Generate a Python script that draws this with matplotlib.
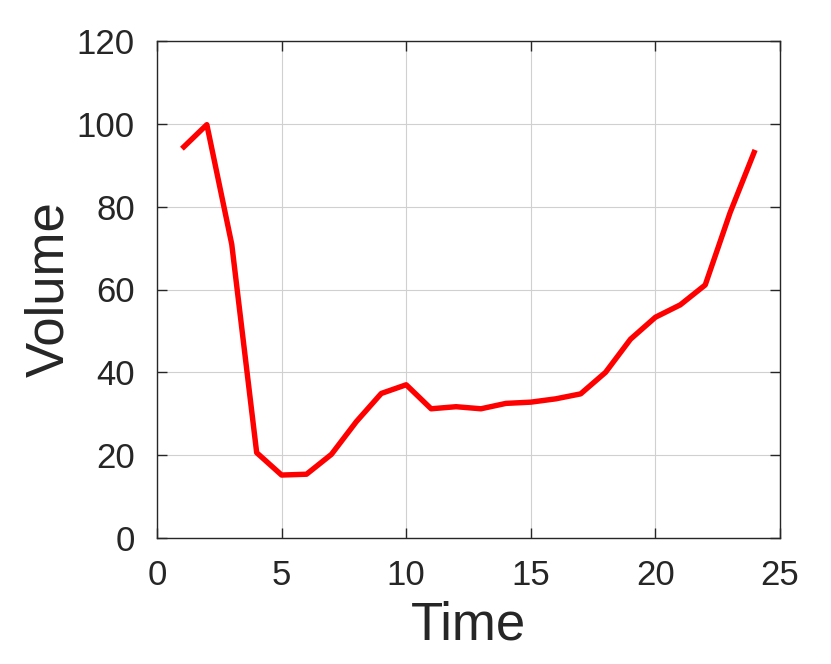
import matplotlib
matplotlib.use("Agg")
import matplotlib.pyplot as plt

tempo = list(range(1, 25))
volume = [94.0, 99.8, 70.9, 20.6, 15.2, 15.4, 20.2, 28.1, 34.9, 37.0,
          31.2, 31.7, 31.2, 32.5, 32.8, 33.6, 34.8, 40.0, 48.0, 53.3,
          56.3, 61.1, 78.6, 93.7]

xticks = [0, 5, 10, 15, 20, 25]
yticks = [0, 20, 40, 60, 80, 100, 120]

plt.rcParams['font.family'] = ['Liberation Sans', 'DejaVu Sans']

fig = plt.figure(figsize=(8.31, 6.64), dpi=100)
ax = fig.add_axes([157 / 831, 1 - 538 / 664, (780 - 157) / 831, (538 - 41) / 664])

ax.plot(tempo, volume, color='#ff0000', linewidth=3.9, solid_capstyle='butt')

ax.set_xlim(0, 25)
ax.set_ylim(0, 120)
ax.set_xticks(xticks)
ax.set_yticks(yticks)
ax.grid(True, color='#d0d0d0', linewidth=0.8)
ax.set_axisbelow(True)

ax.tick_params(direction='in', length=7, width=1.0, colors='#262626',
               labelsize=25, top=True, right=True)
ax.tick_params(axis='x', pad=15)
ax.tick_params(axis='y', pad=16)
for s in ax.spines.values():
    s.set_color('#262626')
    s.set_linewidth(1.0)

ax.set_xlabel('Time', fontsize=38, color='#262626', labelpad=6)
ax.set_ylabel('Volume', fontsize=38, color='#262626', labelpad=2)

fig.savefig('out.png', dpi=100)
